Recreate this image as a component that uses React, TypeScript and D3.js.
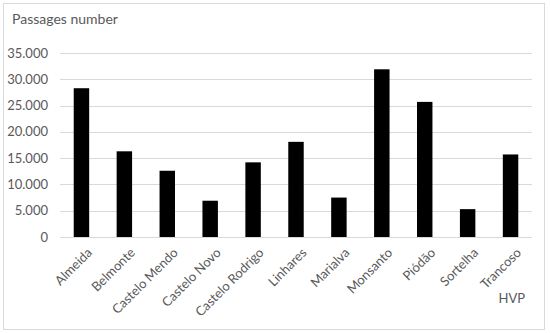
import { useEffect, useRef } from "react";
import * as d3 from "d3";

// categories (HVP) and number of passages
const villages = [
  "Almeida", "Belmonte", "Castelo Mendo", "Castelo Novo", "Castelo Rodrigo",
  "Linhares", "Marialva", "Monsanto", "Piódão", "Sortelha", "Trancoso",
];
const passages = [28300, 16300, 12600, 6900, 14200, 18100, 7500, 31900, 25700, 5300, 15700];
const yTicks = [0, 5000, 10000, 15000, 20000, 25000, 30000, 35000];

const width = 550;
const height = 333;
const margin = { top: 53, right: 18, bottom: 96, left: 60 };
const font = "Lato, 'Open Sans', sans-serif";

const fmt = (v: number) => d3.format(",")(v).replace(/,/g, ".");

export default function App() {
  const ref = useRef<SVGSVGElement>(null);

  useEffect(() => {
    const svg = d3.select(ref.current);
    svg.selectAll("*").remove();

    // cadre du graphique
    svg.append("rect")
      .attr("x", 3.5).attr("y", 3.5)
      .attr("width", 541).attr("height", 326)
      .attr("fill", "white")
      .attr("stroke", "#d9d9d9");

    const x = d3.scaleBand()
      .domain(villages)
      .range([margin.left, width - margin.right])
      .paddingInner(0.64)
      .paddingOuter(0.32);

    const y = d3.scaleLinear()
      .domain([0, 35000])
      .range([height - margin.bottom, margin.top]);

    // grille
    svg.append("g")
      .selectAll("line")
      .data(yTicks)
      .join("line")
      .attr("x1", margin.left)
      .attr("x2", width - margin.right)
      .attr("y1", d => Math.round(y(d)) + 0.5)
      .attr("y2", d => Math.round(y(d)) + 0.5)
      .attr("stroke", "#d9d9d9");

    // étiquettes de l'axe y
    svg.append("g")
      .attr("font-family", font)
      .attr("font-size", 13)
      .attr("fill", "#595959")
      .attr("text-anchor", "end")
      .selectAll("text")
      .data(yTicks)
      .join("text")
      .attr("x", 48)
      .attr("y", d => y(d))
      .attr("dy", "0.35em")
      .text(d => fmt(d));

    // barres
    svg.append("g")
      .selectAll("rect")
      .data(villages)
      .join("rect")
      .attr("x", d => x(d)!)
      .attr("width", x.bandwidth())
      .attr("y", (d, i) => y(passages[i]))
      .attr("height", (d, i) => y(0) - y(passages[i]))
      .attr("fill", "black");

    // étiquettes de l'axe x
    svg.append("g")
      .attr("font-family", font)
      .attr("font-size", 13)
      .attr("fill", "#595959")
      .attr("text-anchor", "end")
      .selectAll("text")
      .data(villages)
      .join("text")
      .attr("transform", d => `translate(${x(d)! + x.bandwidth() / 2 + 5},${y(0) + 10}) rotate(-45)`)
      .attr("dy", "0.7em")
      .text(d => d);

    svg.append("text")
      .attr("x", 12)
      .attr("y", 24)
      .attr("font-family", font)
      .attr("font-size", 14)
      .attr("fill", "#595959")
      .text("Passages number");

    svg.append("text")
      .attr("x", 525)
      .attr("y", 303)
      .attr("text-anchor", "end")
      .attr("font-family", font)
      .attr("font-size", 13)
      .attr("fill", "#595959")
      .text("HVP");
  }, []);

  return (
    <svg
      ref={ref}
      width={width}
      height={height}
      style={{ position: "absolute", left: 0, top: 0, background: "white" }}
    />
  );
}
